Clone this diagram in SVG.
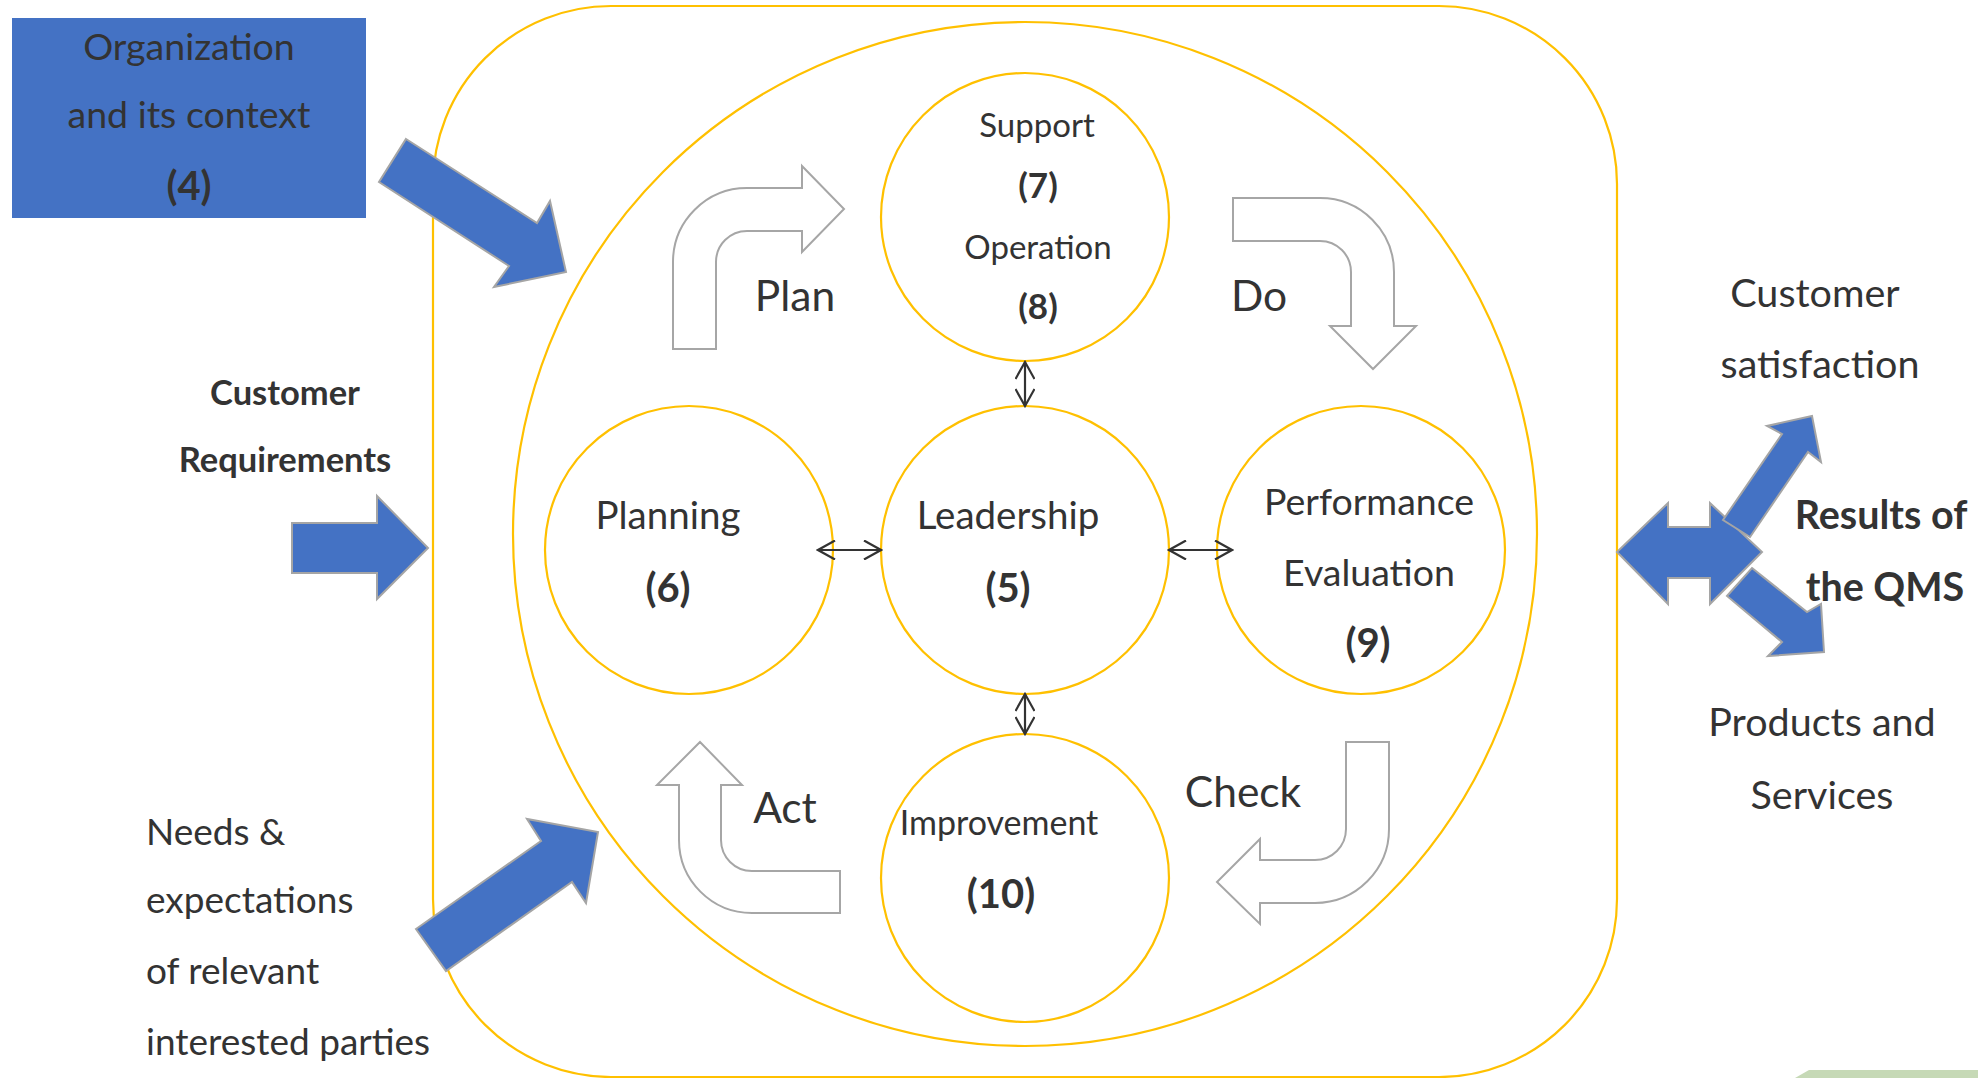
<svg xmlns="http://www.w3.org/2000/svg" width="1978" height="1078" viewBox="0 0 1978 1078">
<defs>
<style>
.t{font-family:Lato,"Liberation Sans",sans-serif;fill:#333333}
.b{font-weight:700}
.m{text-anchor:middle}
.ring{fill:none;stroke:#FFC000;stroke-width:2.2}
.node{fill:#FFFFFF;stroke:#FFC000;stroke-width:2.2}
.hollow{fill:#FFFFFF;stroke:#A6A6A6;stroke-width:2}
.blue{fill:#4472C4;stroke:#A5A5A5;stroke-width:2;stroke-linejoin:miter}
.link{fill:none;stroke:#333333;stroke-width:2.2}
</style>
<marker id="oa" viewBox="0 0 20 20" refX="18" refY="10" markerWidth="20" markerHeight="20" markerUnits="userSpaceOnUse" orient="auto-start-reverse">
<path d="M1,0.5 L18,10 L1,19.5" fill="none" stroke="#333333" stroke-width="2.2"/>
</marker>
</defs>
<rect width="1978" height="1078" fill="#FFFFFF"/>

<g id="frame">
<rect x="433" y="6" width="1184" height="1071" rx="178" ry="178" class="ring"/>
<circle cx="1025" cy="534" r="512" class="ring"/>
</g>

<g id="org-context">
<rect x="12" y="18" width="354" height="200" fill="#4472C4"/>
<text class="t m" x="189" y="60" font-size="37.5">Organization</text>
<text class="t m" x="189" y="128" font-size="37.5">and its context</text>
<text class="t m b" x="189" y="200" font-size="40">(4)</text>
</g>

<g id="customer-requirements">
<text class="t m b" x="285" y="405" font-size="34.5">Customer</text>
<text class="t m b" x="285" y="472" font-size="34.5">Requirements</text>
</g>

<g id="needs">
<text class="t" x="146" y="845" font-size="37">Needs &amp;</text>
<text class="t" x="146" y="913" font-size="37">expectations</text>
<text class="t" x="146" y="984" font-size="37">of relevant</text>
<text class="t" x="146" y="1055" font-size="37">interested parties</text>
</g>

<g id="input-arrows">
<polygon class="blue" points="406,139 537,223 550,201 566,272 494,287 509,266 379,182"/>
<polygon class="blue" points="292,523 377,523 377,496 428,548 377,599 377,573 292,573"/>
<polygon class="blue" points="416,929 541,841 527,819 598,832 586,903 572,882 446,971"/>
</g>

<g id="pdca">
<path class="hollow" d="M673,349 V262 A74,74 0 0 1 747,188 H802 V166 L844,209 L802,252 V231 H747 A31,31 0 0 0 716,262 V349 Z"/>
<path class="hollow" d="M1233,198 H1320 A74,74 0 0 1 1394,272 V326 H1416 L1373,369 L1330,326 H1351 V272 A31,31 0 0 0 1320,241 H1233 Z"/>
<path class="hollow" d="M1346,742 H1389 V829 A74,74 0 0 1 1315,903 H1260 V924 L1217,882 L1260,839 V860 H1315 A31,31 0 0 0 1346,829 Z"/>
<path class="hollow" d="M700,742 L742,785 H721 V840 A31,31 0 0 0 752,871 H840 V913 H752 A73,73 0 0 1 679,840 V785 H657 Z"/>
<text class="t m" x="795" y="311" font-size="42.5">Plan</text>
<text class="t m" x="1259" y="311" font-size="42.5">Do</text>
<text class="t m" x="1243" y="807" font-size="42.5">Check</text>
<text class="t m" x="785" y="823" font-size="42.5">Act</text>
</g>

<g id="support-operation">
<circle cx="1025" cy="217" r="144" class="node"/>
<text class="t m" x="1037" y="137" font-size="33">Support</text>
<text class="t m b" x="1038" y="198" font-size="35">(7)</text>
<text class="t m" x="1038" y="259" font-size="33">Operation</text>
<text class="t m b" x="1038" y="319" font-size="35">(8)</text>
</g>

<g id="planning">
<circle cx="689" cy="550" r="144" class="node"/>
<text class="t m" x="668" y="529" font-size="38.5">Planning</text>
<text class="t m b" x="668" y="602" font-size="40">(6)</text>
</g>

<g id="leadership">
<circle cx="1025" cy="550" r="144" class="node"/>
<text class="t m" x="1008" y="529" font-size="38.5">Leadership</text>
<text class="t m b" x="1008" y="602" font-size="40">(5)</text>
</g>

<g id="performance-evaluation">
<circle cx="1361" cy="550" r="144" class="node"/>
<text class="t m" x="1369" y="515" font-size="37.5">Performance</text>
<text class="t m" x="1369" y="586" font-size="37.5">Evaluation</text>
<text class="t m b" x="1368" y="657" font-size="40">(9)</text>
</g>

<g id="improvement">
<circle cx="1025" cy="878" r="144" class="node"/>
<text class="t m" x="999" y="835" font-size="34">Improvement</text>
<text class="t m b" x="1001" y="908" font-size="40">(10)</text>
</g>

<g id="connectors">
<line class="link" x1="1025" y1="362" x2="1025" y2="406" marker-start="url(#oa)" marker-end="url(#oa)"/>
<line class="link" x1="1025" y1="694" x2="1025" y2="734" marker-start="url(#oa)" marker-end="url(#oa)"/>
<line class="link" x1="818" y1="550" x2="881" y2="550" marker-start="url(#oa)" marker-end="url(#oa)"/>
<line class="link" x1="1169" y1="550" x2="1232" y2="550" marker-start="url(#oa)" marker-end="url(#oa)"/>
</g>

<g id="results">
<polygon class="blue" points="1617,552 1668,503 1668,527 1710,527 1710,503 1762,552 1710,604 1710,578 1668,578 1668,604"/>
<polygon class="blue" points="1723,520 1782,434 1767,426 1812,416 1821,462 1808,452 1750,537"/>
<polygon class="blue" points="1752,568 1807,612 1821,604 1824,652 1768,656 1782,642 1727,596"/>
<text class="t m" x="1815" y="307" font-size="39.5">Customer</text>
<text class="t m" x="1820" y="378" font-size="39.5">satisfaction</text>
<text class="t m b" x="1881" y="529" font-size="39.5">Results of</text>
<text class="t m b" x="1885" y="601" font-size="39.5">the QMS</text>
<text class="t m" x="1822" y="736" font-size="39.5">Products and</text>
<text class="t m" x="1822" y="809" font-size="39.5">Services</text>
</g>

<polygon points="1795,1078 1809,1070 1978,1070 1978,1078" fill="#C6D9B6"/>
</svg>
